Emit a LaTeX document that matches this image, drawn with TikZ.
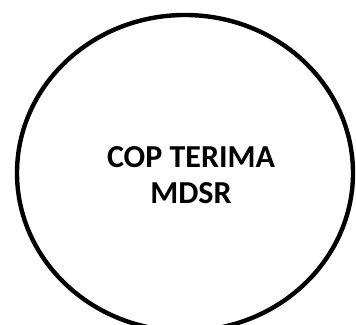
\documentclass[tikz,border=0pt]{standalone}
\usepackage{fontspec}
\setmainfont{Carlito}
\begin{document}
\begin{tikzpicture}[x=1pt,y=1pt,
  bubble/.style={draw=black,line width=4.4pt},
  label/.style={font=\bfseries\fontsize{32}{36}\selectfont,align=center,text=black,inner sep=0pt}]
\useasboundingbox (0,0) rectangle (356,324);
\clip (0,0) rectangle (356,324);
\draw[bubble] (185,151) ellipse [x radius=168, y radius=158];
\node[label] (t) at (191,149) {COP TERIMA\\MDSR};
\end{tikzpicture}
\end{document}
